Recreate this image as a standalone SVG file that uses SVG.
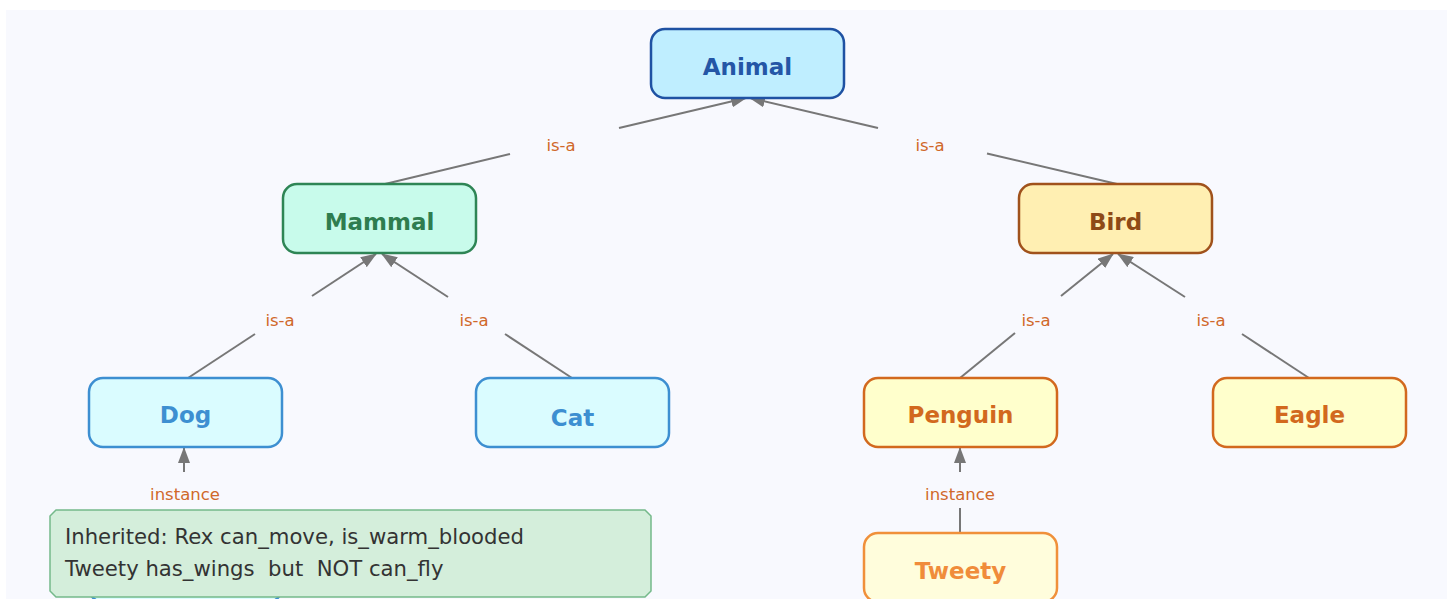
<svg xmlns="http://www.w3.org/2000/svg" width="1447" height="599" viewBox="0 0 1447 599">
<style>
.node rect{stroke-width:2.5}
.nt{font-family:"DejaVu Sans",sans-serif;font-weight:bold;font-size:23px;text-anchor:middle}
.lbl{font-family:"DejaVu Sans",sans-serif;font-size:16.5px;fill:#d0682a;text-anchor:middle}
.edge{stroke:#777;stroke-width:2;fill:none}
.note{font-family:"DejaVu Sans",sans-serif;font-size:21.2px;fill:#333}
</style>
<defs>
<marker id="arr" markerWidth="16" markerHeight="12" refX="15" refY="6" orient="auto" markerUnits="userSpaceOnUse">
<path d="M0,0 L16,6 L0,12 Z" fill="#777"/>
</marker>
</defs>
<rect x="0" y="0" width="1447" height="599" fill="#ffffff"/>
<rect x="6" y="10" width="1441" height="589" fill="#f8f9fe"/>

<g id="connectors">
<path class="edge" d="M385,184 L510,154"/>
<path class="edge" d="M619,128 L746,98" marker-end="url(#arr)"/>
<path class="edge" d="M1117,184 L987,153.5"/>
<path class="edge" d="M878,128 L750,98" marker-end="url(#arr)"/>
<path class="edge" d="M188,378 L255,334"/>
<path class="edge" d="M312,296 L376,254" marker-end="url(#arr)"/>
<path class="edge" d="M572,378 L505,334"/>
<path class="edge" d="M448,297 L382,254" marker-end="url(#arr)"/>
<path class="edge" d="M960,378 L1015,333"/>
<path class="edge" d="M1061,296 L1113,254" marker-end="url(#arr)"/>
<path class="edge" d="M1309,378 L1242,334"/>
<path class="edge" d="M1185,297 L1118,254" marker-end="url(#arr)"/>
<path class="edge" d="M184,472 L184,448" marker-end="url(#arr)"/>
<path class="edge" d="M960,533 L960,508"/>
<path class="edge" d="M960,472 L960,448" marker-end="url(#arr)"/>
<text class="lbl" x="561" y="151">is-a</text>
<text class="lbl" x="930" y="151">is-a</text>
<text class="lbl" x="280" y="326">is-a</text>
<text class="lbl" x="474" y="326">is-a</text>
<text class="lbl" x="1036" y="326">is-a</text>
<text class="lbl" x="1211" y="326">is-a</text>
<text class="lbl" x="185" y="500">instance</text>
<text class="lbl" x="960" y="500">instance</text>
</g>

<g id="animal" class="node">
<rect x="651" y="29" width="193" height="69" rx="14" fill="#bfeeff" stroke="#1f52a3"/>
<text class="nt" x="747.5" y="75" fill="#2456a6">Animal</text>
</g>
<g id="mammal" class="node">
<rect x="283" y="184" width="193" height="69" rx="14" fill="#c8fbeb" stroke="#2e8555"/>
<text class="nt" x="379.5" y="230" fill="#2e7d4f">Mammal</text>
</g>
<g id="bird" class="node">
<rect x="1019" y="184" width="193" height="69" rx="14" fill="#ffefb2" stroke="#a0521c"/>
<text class="nt" x="1115.5" y="230" fill="#8e4a16">Bird</text>
</g>
<g id="dog" class="node">
<rect x="89" y="378" width="193" height="69" rx="14" fill="#dafcff" stroke="#3d8fd1"/>
<text class="nt" x="185.5" y="423" fill="#3d8fd1">Dog</text>
</g>
<g id="cat" class="node">
<rect x="476" y="378" width="193" height="69" rx="14" fill="#dafcff" stroke="#3d8fd1"/>
<text class="nt" x="572.5" y="426" fill="#3d8fd1">Cat</text>
</g>
<g id="penguin" class="node">
<rect x="864" y="378" width="193" height="69" rx="14" fill="#ffffcc" stroke="#d2691e"/>
<text class="nt" x="960.5" y="423" fill="#d2691e">Penguin</text>
</g>
<g id="eagle" class="node">
<rect x="1213" y="378" width="193" height="69" rx="14" fill="#ffffcc" stroke="#d2691e"/>
<text class="nt" x="1309.5" y="423" fill="#d2691e">Eagle</text>
</g>
<g id="tweety" class="node">
<rect x="864" y="533" width="193" height="69" rx="14" fill="#fffddc" stroke="#f0903a"/>
<text class="nt" x="960.5" y="579" fill="#f08c3a">Tweety</text>
</g>
<g id="rex" class="node">
<rect x="89" y="533" width="193" height="69" rx="14" fill="#dafcff" stroke="#3d8fd1"/>
</g>

<g id="note">
<polygon points="56,510 645,510 651,516 651,591 645,597 56,597 50,591 50,516" fill="#d4eedb" stroke="#74b98a" stroke-width="1.5"/>
<text class="note" x="65" y="544">Inherited: Rex can_move, is_warm_blooded</text>
<text class="note" x="65" y="576" xml:space="preserve" style="white-space:pre">Tweety has_wings  but  NOT can_fly</text>
</g>
</svg>
